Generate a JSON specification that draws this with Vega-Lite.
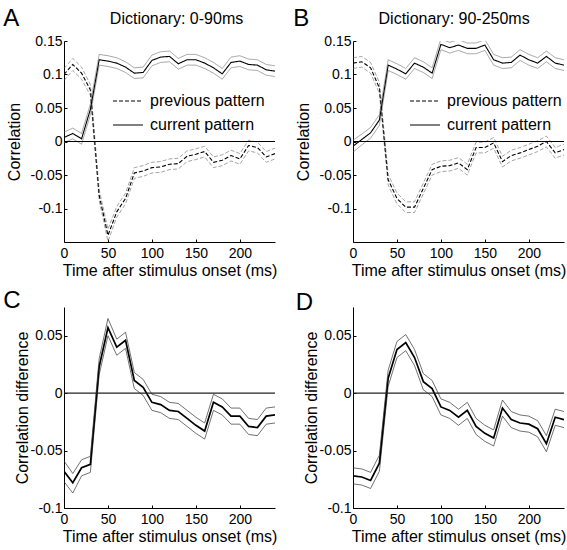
{
  "$schema": "https://vega.github.io/schema/vega-lite/v6.json",
  "padding": {"left": 3, "top": 6, "right": 2, "bottom": 2},
  "columns": 2,
  "bounds": "flush",
  "spacing": {"row": 65, "column": 78},
  "datasets": {
    "A": [
      {"pattern": "previous pattern", "t": 0, "m": 0.100, "lo": 0.091, "hi": 0.109},
      {"pattern": "previous pattern", "t": 10, "m": 0.115, "lo": 0.106, "hi": 0.124},
      {"pattern": "previous pattern", "t": 20, "m": 0.102, "lo": 0.093, "hi": 0.111},
      {"pattern": "previous pattern", "t": 30, "m": 0.077, "lo": 0.069, "hi": 0.085},
      {"pattern": "previous pattern", "t": 40, "m": -0.080, "lo": -0.088, "hi": -0.072},
      {"pattern": "previous pattern", "t": 50, "m": -0.140, "lo": -0.149, "hi": -0.131},
      {"pattern": "previous pattern", "t": 60, "m": -0.105, "lo": -0.113, "hi": -0.097},
      {"pattern": "previous pattern", "t": 70, "m": -0.085, "lo": -0.093, "hi": -0.077},
      {"pattern": "previous pattern", "t": 80, "m": -0.047, "lo": -0.055, "hi": -0.039},
      {"pattern": "previous pattern", "t": 90, "m": -0.044, "lo": -0.052, "hi": -0.036},
      {"pattern": "previous pattern", "t": 100, "m": -0.039, "lo": -0.047, "hi": -0.031},
      {"pattern": "previous pattern", "t": 110, "m": -0.038, "lo": -0.046, "hi": -0.030},
      {"pattern": "previous pattern", "t": 120, "m": -0.034, "lo": -0.042, "hi": -0.026},
      {"pattern": "previous pattern", "t": 130, "m": -0.033, "lo": -0.041, "hi": -0.025},
      {"pattern": "previous pattern", "t": 140, "m": -0.022, "lo": -0.030, "hi": -0.014},
      {"pattern": "previous pattern", "t": 150, "m": -0.019, "lo": -0.027, "hi": -0.011},
      {"pattern": "previous pattern", "t": 160, "m": -0.015, "lo": -0.023, "hi": -0.007},
      {"pattern": "previous pattern", "t": 170, "m": -0.031, "lo": -0.039, "hi": -0.023},
      {"pattern": "previous pattern", "t": 180, "m": -0.028, "lo": -0.036, "hi": -0.020},
      {"pattern": "previous pattern", "t": 190, "m": -0.021, "lo": -0.029, "hi": -0.013},
      {"pattern": "previous pattern", "t": 200, "m": -0.026, "lo": -0.034, "hi": -0.018},
      {"pattern": "previous pattern", "t": 210, "m": -0.006, "lo": -0.014, "hi": 0.002},
      {"pattern": "previous pattern", "t": 220, "m": -0.009, "lo": -0.017, "hi": -0.001},
      {"pattern": "previous pattern", "t": 230, "m": -0.023, "lo": -0.031, "hi": -0.015},
      {"pattern": "previous pattern", "t": 240, "m": -0.018, "lo": -0.026, "hi": -0.010},
      {"pattern": "current pattern", "t": 0, "m": 0.006, "lo": -0.002, "hi": 0.014},
      {"pattern": "current pattern", "t": 10, "m": 0.012, "lo": 0.004, "hi": 0.020},
      {"pattern": "current pattern", "t": 20, "m": 0.004, "lo": -0.004, "hi": 0.012},
      {"pattern": "current pattern", "t": 30, "m": 0.048, "lo": 0.040, "hi": 0.056},
      {"pattern": "current pattern", "t": 40, "m": 0.122, "lo": 0.114, "hi": 0.130},
      {"pattern": "current pattern", "t": 50, "m": 0.120, "lo": 0.112, "hi": 0.128},
      {"pattern": "current pattern", "t": 60, "m": 0.117, "lo": 0.109, "hi": 0.125},
      {"pattern": "current pattern", "t": 70, "m": 0.111, "lo": 0.103, "hi": 0.119},
      {"pattern": "current pattern", "t": 80, "m": 0.102, "lo": 0.094, "hi": 0.110},
      {"pattern": "current pattern", "t": 90, "m": 0.103, "lo": 0.095, "hi": 0.111},
      {"pattern": "current pattern", "t": 100, "m": 0.121, "lo": 0.113, "hi": 0.129},
      {"pattern": "current pattern", "t": 110, "m": 0.126, "lo": 0.118, "hi": 0.134},
      {"pattern": "current pattern", "t": 120, "m": 0.127, "lo": 0.119, "hi": 0.135},
      {"pattern": "current pattern", "t": 130, "m": 0.116, "lo": 0.108, "hi": 0.124},
      {"pattern": "current pattern", "t": 140, "m": 0.122, "lo": 0.114, "hi": 0.130},
      {"pattern": "current pattern", "t": 150, "m": 0.122, "lo": 0.114, "hi": 0.130},
      {"pattern": "current pattern", "t": 160, "m": 0.117, "lo": 0.109, "hi": 0.125},
      {"pattern": "current pattern", "t": 170, "m": 0.110, "lo": 0.102, "hi": 0.118},
      {"pattern": "current pattern", "t": 180, "m": 0.101, "lo": 0.093, "hi": 0.109},
      {"pattern": "current pattern", "t": 190, "m": 0.118, "lo": 0.110, "hi": 0.126},
      {"pattern": "current pattern", "t": 200, "m": 0.120, "lo": 0.112, "hi": 0.128},
      {"pattern": "current pattern", "t": 210, "m": 0.115, "lo": 0.107, "hi": 0.123},
      {"pattern": "current pattern", "t": 220, "m": 0.114, "lo": 0.106, "hi": 0.122},
      {"pattern": "current pattern", "t": 230, "m": 0.107, "lo": 0.099, "hi": 0.115},
      {"pattern": "current pattern", "t": 240, "m": 0.105, "lo": 0.097, "hi": 0.113}
    ],
    "B": [
      {"pattern": "previous pattern", "t": 0, "m": 0.117, "lo": 0.109, "hi": 0.125},
      {"pattern": "previous pattern", "t": 10, "m": 0.119, "lo": 0.111, "hi": 0.127},
      {"pattern": "previous pattern", "t": 20, "m": 0.110, "lo": 0.102, "hi": 0.118},
      {"pattern": "previous pattern", "t": 30, "m": 0.080, "lo": 0.072, "hi": 0.088},
      {"pattern": "previous pattern", "t": 40, "m": -0.057, "lo": -0.065, "hi": -0.049},
      {"pattern": "previous pattern", "t": 50, "m": -0.085, "lo": -0.093, "hi": -0.077},
      {"pattern": "previous pattern", "t": 60, "m": -0.098, "lo": -0.106, "hi": -0.090},
      {"pattern": "previous pattern", "t": 70, "m": -0.098, "lo": -0.106, "hi": -0.090},
      {"pattern": "previous pattern", "t": 80, "m": -0.070, "lo": -0.078, "hi": -0.062},
      {"pattern": "previous pattern", "t": 90, "m": -0.042, "lo": -0.050, "hi": -0.034},
      {"pattern": "previous pattern", "t": 100, "m": -0.037, "lo": -0.045, "hi": -0.029},
      {"pattern": "previous pattern", "t": 110, "m": -0.036, "lo": -0.044, "hi": -0.028},
      {"pattern": "previous pattern", "t": 120, "m": -0.032, "lo": -0.040, "hi": -0.024},
      {"pattern": "previous pattern", "t": 130, "m": -0.042, "lo": -0.050, "hi": -0.034},
      {"pattern": "previous pattern", "t": 140, "m": -0.009, "lo": -0.017, "hi": -0.001},
      {"pattern": "previous pattern", "t": 150, "m": -0.009, "lo": -0.017, "hi": -0.001},
      {"pattern": "previous pattern", "t": 160, "m": -0.002, "lo": -0.010, "hi": 0.006},
      {"pattern": "previous pattern", "t": 170, "m": -0.030, "lo": -0.038, "hi": -0.022},
      {"pattern": "previous pattern", "t": 180, "m": -0.021, "lo": -0.029, "hi": -0.013},
      {"pattern": "previous pattern", "t": 190, "m": -0.017, "lo": -0.025, "hi": -0.009},
      {"pattern": "previous pattern", "t": 200, "m": -0.012, "lo": -0.020, "hi": -0.004},
      {"pattern": "previous pattern", "t": 210, "m": -0.007, "lo": -0.015, "hi": 0.001},
      {"pattern": "previous pattern", "t": 220, "m": 0.000, "lo": -0.008, "hi": 0.008},
      {"pattern": "previous pattern", "t": 230, "m": -0.017, "lo": -0.025, "hi": -0.009},
      {"pattern": "previous pattern", "t": 240, "m": -0.012, "lo": -0.020, "hi": -0.004},
      {"pattern": "current pattern", "t": 0, "m": -0.007, "lo": -0.016, "hi": 0.002},
      {"pattern": "current pattern", "t": 10, "m": 0.003, "lo": -0.005, "hi": 0.011},
      {"pattern": "current pattern", "t": 20, "m": 0.013, "lo": 0.005, "hi": 0.021},
      {"pattern": "current pattern", "t": 30, "m": 0.032, "lo": 0.024, "hi": 0.040},
      {"pattern": "current pattern", "t": 40, "m": 0.114, "lo": 0.106, "hi": 0.122},
      {"pattern": "current pattern", "t": 50, "m": 0.108, "lo": 0.100, "hi": 0.116},
      {"pattern": "current pattern", "t": 60, "m": 0.101, "lo": 0.093, "hi": 0.109},
      {"pattern": "current pattern", "t": 70, "m": 0.117, "lo": 0.109, "hi": 0.125},
      {"pattern": "current pattern", "t": 80, "m": 0.111, "lo": 0.103, "hi": 0.119},
      {"pattern": "current pattern", "t": 90, "m": 0.102, "lo": 0.094, "hi": 0.110},
      {"pattern": "current pattern", "t": 100, "m": 0.145, "lo": 0.137, "hi": 0.153},
      {"pattern": "current pattern", "t": 110, "m": 0.140, "lo": 0.132, "hi": 0.148},
      {"pattern": "current pattern", "t": 120, "m": 0.144, "lo": 0.136, "hi": 0.152},
      {"pattern": "current pattern", "t": 130, "m": 0.139, "lo": 0.131, "hi": 0.147},
      {"pattern": "current pattern", "t": 140, "m": 0.139, "lo": 0.131, "hi": 0.147},
      {"pattern": "current pattern", "t": 150, "m": 0.144, "lo": 0.136, "hi": 0.152},
      {"pattern": "current pattern", "t": 160, "m": 0.122, "lo": 0.114, "hi": 0.130},
      {"pattern": "current pattern", "t": 170, "m": 0.117, "lo": 0.109, "hi": 0.125},
      {"pattern": "current pattern", "t": 180, "m": 0.118, "lo": 0.110, "hi": 0.126},
      {"pattern": "current pattern", "t": 190, "m": 0.129, "lo": 0.121, "hi": 0.137},
      {"pattern": "current pattern", "t": 200, "m": 0.122, "lo": 0.114, "hi": 0.130},
      {"pattern": "current pattern", "t": 210, "m": 0.117, "lo": 0.109, "hi": 0.125},
      {"pattern": "current pattern", "t": 220, "m": 0.127, "lo": 0.119, "hi": 0.135},
      {"pattern": "current pattern", "t": 230, "m": 0.117, "lo": 0.109, "hi": 0.125},
      {"pattern": "current pattern", "t": 240, "m": 0.114, "lo": 0.106, "hi": 0.122}
    ],
    "C": [
      {"t": 0, "m": -0.068, "lo": -0.077, "hi": -0.059},
      {"t": 10, "m": -0.078, "lo": -0.087, "hi": -0.070},
      {"t": 20, "m": -0.065, "lo": -0.072, "hi": -0.058},
      {"t": 30, "m": -0.062, "lo": -0.069, "hi": -0.055},
      {"t": 40, "m": 0.023, "lo": 0.016, "hi": 0.030},
      {"t": 50, "m": 0.057, "lo": 0.050, "hi": 0.065},
      {"t": 60, "m": 0.040, "lo": 0.033, "hi": 0.047},
      {"t": 70, "m": 0.046, "lo": 0.039, "hi": 0.053},
      {"t": 80, "m": 0.011, "lo": 0.004, "hi": 0.018},
      {"t": 90, "m": 0.005, "lo": -0.002, "hi": 0.012},
      {"t": 100, "m": -0.008, "lo": -0.015, "hi": -0.001},
      {"t": 110, "m": -0.010, "lo": -0.017, "hi": -0.003},
      {"t": 120, "m": -0.015, "lo": -0.022, "hi": -0.008},
      {"t": 130, "m": -0.016, "lo": -0.023, "hi": -0.009},
      {"t": 140, "m": -0.022, "lo": -0.029, "hi": -0.015},
      {"t": 150, "m": -0.028, "lo": -0.035, "hi": -0.021},
      {"t": 160, "m": -0.033, "lo": -0.040, "hi": -0.026},
      {"t": 170, "m": -0.008, "lo": -0.015, "hi": -0.001},
      {"t": 180, "m": -0.012, "lo": -0.019, "hi": -0.005},
      {"t": 190, "m": -0.020, "lo": -0.027, "hi": -0.013},
      {"t": 200, "m": -0.020, "lo": -0.027, "hi": -0.013},
      {"t": 210, "m": -0.029, "lo": -0.036, "hi": -0.022},
      {"t": 220, "m": -0.030, "lo": -0.037, "hi": -0.023},
      {"t": 230, "m": -0.020, "lo": -0.027, "hi": -0.013},
      {"t": 240, "m": -0.019, "lo": -0.026, "hi": -0.012}
    ],
    "D": [
      {"t": 0, "m": -0.072, "lo": -0.079, "hi": -0.065},
      {"t": 10, "m": -0.073, "lo": -0.080, "hi": -0.066},
      {"t": 20, "m": -0.076, "lo": -0.083, "hi": -0.069},
      {"t": 30, "m": -0.061, "lo": -0.068, "hi": -0.054},
      {"t": 40, "m": 0.013, "lo": 0.006, "hi": 0.020},
      {"t": 50, "m": 0.038, "lo": 0.031, "hi": 0.045},
      {"t": 60, "m": 0.044, "lo": 0.037, "hi": 0.051},
      {"t": 70, "m": 0.031, "lo": 0.024, "hi": 0.038},
      {"t": 80, "m": 0.010, "lo": 0.003, "hi": 0.017},
      {"t": 90, "m": 0.004, "lo": -0.003, "hi": 0.011},
      {"t": 100, "m": -0.012, "lo": -0.019, "hi": -0.005},
      {"t": 110, "m": -0.015, "lo": -0.022, "hi": -0.008},
      {"t": 120, "m": -0.021, "lo": -0.028, "hi": -0.014},
      {"t": 130, "m": -0.015, "lo": -0.022, "hi": -0.008},
      {"t": 140, "m": -0.029, "lo": -0.036, "hi": -0.022},
      {"t": 150, "m": -0.035, "lo": -0.042, "hi": -0.028},
      {"t": 160, "m": -0.039, "lo": -0.046, "hi": -0.032},
      {"t": 170, "m": -0.013, "lo": -0.020, "hi": -0.006},
      {"t": 180, "m": -0.023, "lo": -0.030, "hi": -0.016},
      {"t": 190, "m": -0.026, "lo": -0.033, "hi": -0.019},
      {"t": 200, "m": -0.027, "lo": -0.034, "hi": -0.020},
      {"t": 210, "m": -0.031, "lo": -0.038, "hi": -0.024},
      {"t": 220, "m": -0.044, "lo": -0.051, "hi": -0.037},
      {"t": 230, "m": -0.021, "lo": -0.028, "hi": -0.014},
      {"t": 240, "m": -0.023, "lo": -0.030, "hi": -0.016}
    ]
  },
  "concat": [
    {
      "width": 211, "height": 201,
      "layer": [
        {
          "data": {"name": "A"},
          "transform": [{"fold": ["lo", "m", "hi"], "as": ["band", "v"]}],
          "mark": {"type": "line", "clip": true},
          "encoding": {
            "x": {"field": "t", "type": "quantitative", "scale": {"domain": [0, 240], "nice": false}, "axis": {"title": "Time after stimulus onset (ms)", "values": [0, 50, 100, 150, 200]}},
            "y": {"field": "v", "type": "quantitative", "scale": {"domain": [-0.15, 0.15], "nice": false}, "axis": {"title": "Correlation", "values": [-0.1, -0.05, 0, 0.05, 0.1, 0.15], "labelExpr": "'' + datum.value", "titlePadding": 8}},
            "detail": {"field": "band"},
            "strokeDash": {"field": "pattern", "type": "nominal", "scale": {"domain": ["previous pattern", "current pattern"], "range": [[4, 2], [1, 0]]}, "legend": {"orient": "none", "legendX": 48.5, "legendY": 44.5, "title": null}},
            "strokeWidth": {"field": "band", "type": "nominal", "scale": {"type": "ordinal", "domain": ["lo", "m", "hi"], "range": [0.6, 1.1, 0.6]}, "legend": null},
            "color": {"field": "band", "type": "nominal", "scale": {"type": "ordinal", "domain": ["lo", "m", "hi"], "range": ["#666666", "#000000", "#666666"]}, "legend": null}
          }
        },
        {
          "data": {"values": [{"z": 0}]},
          "mark": {"type": "rule", "color": "#000000", "strokeWidth": 1.2},
          "encoding": {"y": {"field": "z", "type": "quantitative", "title": "Correlation"}}
        },
        {
          "data": {"values": [{"label": "A"}]},
          "mark": {"type": "text", "fontSize": 24, "align": "left", "baseline": "alphabetic", "clip": false, "color": "#000000"},
          "encoding": {"x": {"datum": -69}, "y": {"datum": 0.1724}, "text": {"field": "label"}}
        },
        {
          "data": {"values": [{"label": "Dictionary: 0-90ms"}]},
          "mark": {"type": "text", "fontSize": 16, "align": "center", "baseline": "alphabetic", "clip": false, "color": "#000000"},
          "encoding": {"x": {"datum": 128}, "y": {"datum": 0.1754}, "text": {"field": "label"}}
        }
      ]
    },
    {
      "width": 211, "height": 201,
      "layer": [
        {
          "data": {"name": "B"},
          "transform": [{"fold": ["lo", "m", "hi"], "as": ["band", "v"]}],
          "mark": {"type": "line", "clip": true},
          "encoding": {
            "x": {"field": "t", "type": "quantitative", "scale": {"domain": [0, 240], "nice": false}, "axis": {"title": "Time after stimulus onset (ms)", "values": [0, 50, 100, 150, 200]}},
            "y": {"field": "v", "type": "quantitative", "scale": {"domain": [-0.15, 0.15], "nice": false}, "axis": {"title": "Correlation", "values": [-0.1, -0.05, 0, 0.05, 0.1, 0.15], "labelExpr": "'' + datum.value", "titlePadding": 8}},
            "detail": {"field": "band"},
            "strokeDash": {"field": "pattern", "type": "nominal", "scale": {"domain": ["previous pattern", "current pattern"], "range": [[4, 2], [1, 0]]}, "legend": {"orient": "none", "legendX": 56.5, "legendY": 44.5, "title": null}},
            "strokeWidth": {"field": "band", "type": "nominal", "scale": {"type": "ordinal", "domain": ["lo", "m", "hi"], "range": [0.6, 1.1, 0.6]}, "legend": null},
            "color": {"field": "band", "type": "nominal", "scale": {"type": "ordinal", "domain": ["lo", "m", "hi"], "range": ["#666666", "#000000", "#666666"]}, "legend": null}
          }
        },
        {
          "data": {"values": [{"z": 0}]},
          "mark": {"type": "rule", "color": "#000000", "strokeWidth": 1.2},
          "encoding": {"y": {"field": "z", "type": "quantitative", "title": "Correlation"}}
        },
        {
          "data": {"values": [{"label": "B"}]},
          "mark": {"type": "text", "fontSize": 24, "align": "left", "baseline": "alphabetic", "clip": false, "color": "#000000"},
          "encoding": {"x": {"datum": -68}, "y": {"datum": 0.1724}, "text": {"field": "label"}}
        },
        {
          "data": {"values": [{"label": "Dictionary: 90-250ms"}]},
          "mark": {"type": "text", "fontSize": 16, "align": "center", "baseline": "alphabetic", "clip": false, "color": "#000000"},
          "encoding": {"x": {"datum": 115}, "y": {"datum": 0.1754}, "text": {"field": "label"}}
        }
      ]
    },
    {
      "width": 211, "height": 201,
      "layer": [
        {
          "data": {"name": "C"},
          "transform": [{"fold": ["lo", "m", "hi"], "as": ["band", "v"]}],
          "mark": {"type": "line", "clip": true},
          "encoding": {
            "x": {"field": "t", "type": "quantitative", "scale": {"domain": [0, 240], "nice": false}, "axis": {"title": "Time after stimulus onset (ms)", "values": [0, 50, 100, 150, 200]}},
            "y": {"field": "v", "type": "quantitative", "scale": {"domain": [-0.1, 0.075], "nice": false}, "axis": {"title": "Correlation difference", "values": [-0.1, -0.05, 0, 0.05], "labelExpr": "'' + datum.value", "titlePadding": 0}},
            "detail": {"field": "band"},
            "strokeWidth": {"field": "band", "type": "nominal", "scale": {"type": "ordinal", "domain": ["lo", "m", "hi"], "range": [0.7, 1.7, 0.7]}, "legend": null},
            "color": {"field": "band", "type": "nominal", "scale": {"type": "ordinal", "domain": ["lo", "m", "hi"], "range": ["#333333", "#000000", "#333333"]}, "legend": null}
          }
        },
        {
          "data": {"values": [{"z": 0}]},
          "mark": {"type": "rule", "color": "#222222", "strokeWidth": 1.3},
          "encoding": {"y": {"field": "z", "type": "quantitative", "title": "Correlation difference"}}
        },
        {
          "data": {"values": [{"label": "C"}]},
          "mark": {"type": "text", "fontSize": 24, "align": "left", "baseline": "alphabetic", "clip": false, "color": "#000000"},
          "encoding": {"x": {"datum": -69}, "y": {"datum": 0.0745}, "text": {"field": "label"}}
        }
      ]
    },
    {
      "width": 211, "height": 201,
      "layer": [
        {
          "data": {"name": "D"},
          "transform": [{"fold": ["lo", "m", "hi"], "as": ["band", "v"]}],
          "mark": {"type": "line", "clip": true},
          "encoding": {
            "x": {"field": "t", "type": "quantitative", "scale": {"domain": [0, 240], "nice": false}, "axis": {"title": "Time after stimulus onset (ms)", "values": [0, 50, 100, 150, 200]}},
            "y": {"field": "v", "type": "quantitative", "scale": {"domain": [-0.1, 0.075], "nice": false}, "axis": {"title": "Correlation difference", "values": [-0.1, -0.05, 0, 0.05], "labelExpr": "'' + datum.value", "titlePadding": 0}},
            "detail": {"field": "band"},
            "strokeWidth": {"field": "band", "type": "nominal", "scale": {"type": "ordinal", "domain": ["lo", "m", "hi"], "range": [0.7, 1.7, 0.7]}, "legend": null},
            "color": {"field": "band", "type": "nominal", "scale": {"type": "ordinal", "domain": ["lo", "m", "hi"], "range": ["#333333", "#000000", "#333333"]}, "legend": null}
          }
        },
        {
          "data": {"values": [{"z": 0}]},
          "mark": {"type": "rule", "color": "#222222", "strokeWidth": 1.3},
          "encoding": {"y": {"field": "z", "type": "quantitative", "title": "Correlation difference"}}
        },
        {
          "data": {"values": [{"label": "D"}]},
          "mark": {"type": "text", "fontSize": 24, "align": "left", "baseline": "alphabetic", "clip": false, "color": "#000000"},
          "encoding": {"x": {"datum": -65}, "y": {"datum": 0.072}, "text": {"field": "label"}}
        }
      ]
    }
  ],
  "resolve": {
    "scale": {"x": "independent", "y": "independent", "color": "independent", "strokeWidth": "independent", "strokeDash": "independent"},
    "legend": {"strokeDash": "independent"}
  },
  "config": {
    "font": "Liberation Sans",
    "view": {"stroke": null},
    "axis": {
      "grid": false,
      "domainColor": "#000000", "domainWidth": 1,
      "tickColor": "#000000", "tickWidth": 1, "tickSize": -3,
      "labelColor": "#000000", "labelFontSize": 14,
      "titleColor": "#000000", "titleFontSize": 16, "titleFontWeight": "normal"
    },
    "axisX": {"labelPadding": 7, "titlePadding": 2, "labelFlush": false},
    "axisY": {"labelPadding": 5},
    "legend": {
      "symbolType": "stroke", "symbolSize": 900, "symbolStrokeWidth": 1, "symbolStrokeColor": "#000000",
      "labelFontSize": 16, "labelColor": "#000000", "labelOffset": 6.5, "rowPadding": -13,
      "padding": 0, "offset": 0
    }
  }
}
